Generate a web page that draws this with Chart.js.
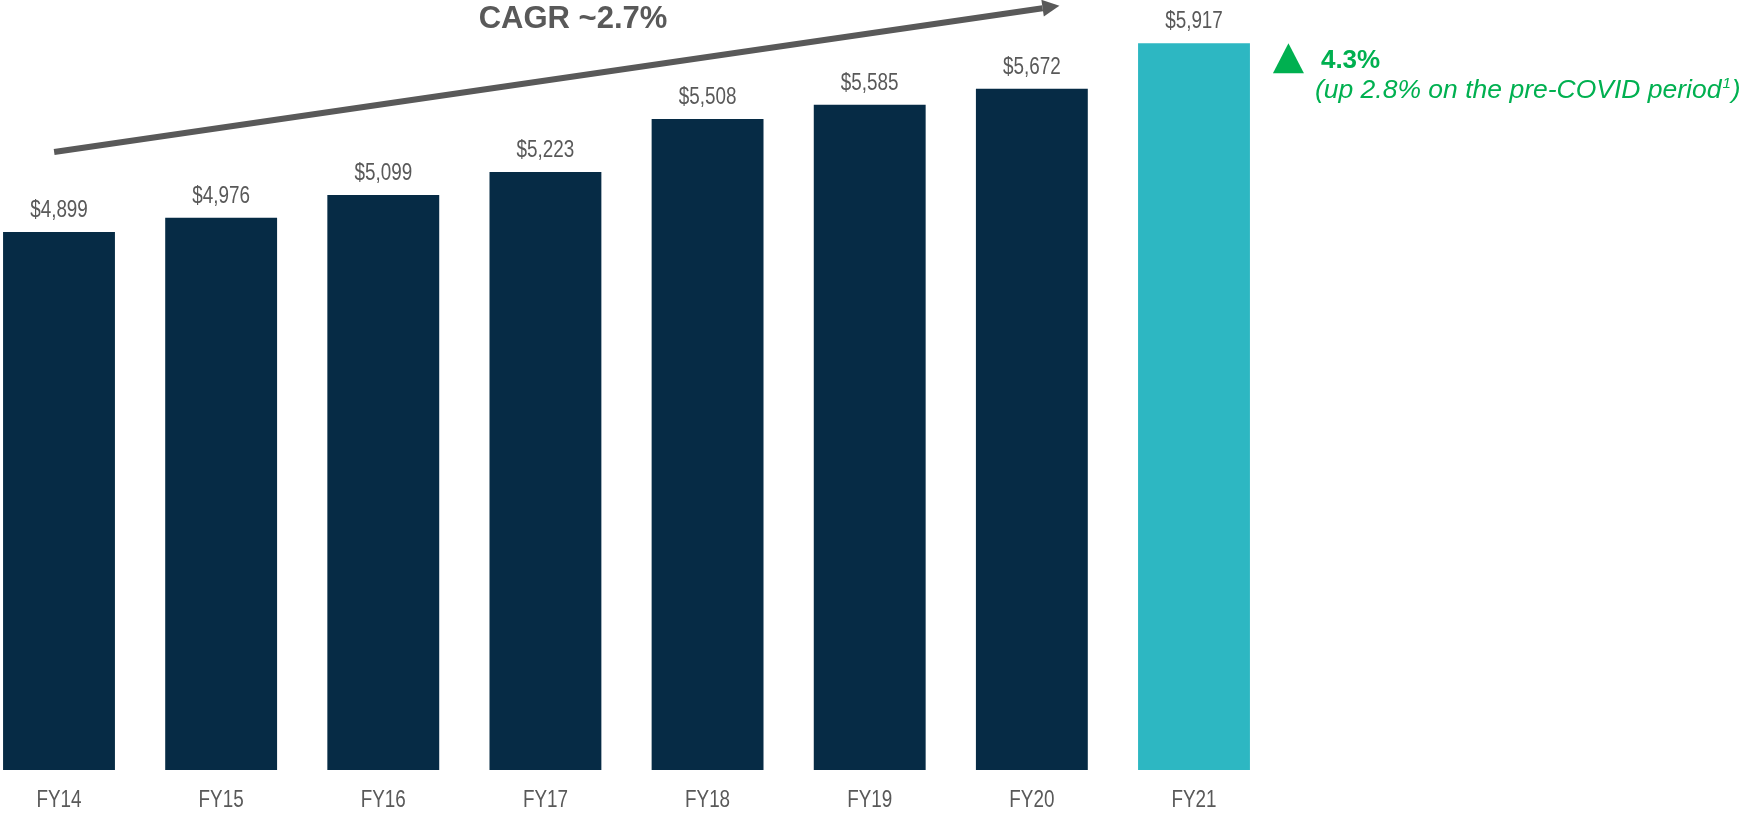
<!DOCTYPE html>
<html>
<head>
<meta charset="utf-8">
<script src="https://cdn.jsdelivr.net/npm/chart.js@4.4.1/dist/chart.umd.min.js"></script>
<style>
  html, body { margin: 0; padding: 0; background: #fff; }
  #wrap { width: 1742px; height: 813px; }
</style>
</head>
<body>
<div id="wrap"><canvas id="myChart"></canvas></div>
<script>
// data
var years = ['FY14', 'FY15', 'FY16', 'FY17', 'FY18', 'FY19', 'FY20', 'FY21'];
var revenue = [4899, 4976, 5099, 5223, 5508, 5585, 5672, 5917];
var barColors = ['#062b45', '#062b45', '#062b45', '#062b45', '#062b45', '#062b45', '#062b45', '#2db7c2'];
var cagrText = 'CAGR ~2.7%';
var growthText = '4.3%';
var growthNote = '(up 2.8% on the pre-COVID period';

var grey = '#595959';
var green = '#00b050';
var sans = '"Liberation Sans", Arial, sans-serif';

// smalle tekst (Arial Narrow nabootsen)
function narrowText(ctx, text, x, y) {
    ctx.save();
    ctx.translate(x, y);
    ctx.scale(0.82, 1);
    ctx.fillText(text, 0, 0);
    ctx.restore();
}

// labels boven de balken en onder de as
var valueLabels = {
    id: 'valueLabels',
    afterDatasetsDraw: function (chart) {
        var ctx = chart.ctx;
        var bars = chart.getDatasetMeta(0).data;
        var xs = chart.scales.x;
        ctx.save();
        ctx.font = '23px ' + sans;
        ctx.fillStyle = grey;
        ctx.textAlign = 'center';
        ctx.textBaseline = 'alphabetic';
        bars.forEach(function (bar, i) {
            narrowText(ctx, '$' + revenue[i].toLocaleString('en-US'), bar.x, bar.y - 15);
        });
        years.forEach(function (yr, i) {
            narrowText(ctx, yr, xs.getPixelForTick(i), chart.chartArea.bottom + 37);
        });
        ctx.restore();
    }
};

// CAGR pijl + groene tekst
var annotations = {
    id: 'annotations',
    afterDraw: function (chart) {
        var ctx = chart.ctx;
        var x = chart.scales.x;
        var y = chart.scales.y;

        var x0 = x.getPixelForValue(-0.03), y0 = y.getPixelForValue(5331);
        var x1 = x.getPixelForValue(6.17), y1 = y.getPixelForValue(6119);
        var ang = Math.atan2(y1 - y0, x1 - x0);
        var headLen = 17, headW = 8.5;
        var bx = x1 - headLen * Math.cos(ang), by = y1 - headLen * Math.sin(ang);

        ctx.save();
        ctx.strokeStyle = grey;
        ctx.fillStyle = grey;
        ctx.lineWidth = 6;
        ctx.beginPath();
        ctx.moveTo(x0, y0);
        ctx.lineTo(bx, by);
        ctx.stroke();
        ctx.beginPath();
        ctx.moveTo(x1, y1);
        ctx.lineTo(bx + headW * Math.sin(ang), by - headW * Math.cos(ang));
        ctx.lineTo(bx - headW * Math.sin(ang), by + headW * Math.cos(ang));
        ctx.closePath();
        ctx.fill();

        ctx.font = 'bold 31px ' + sans;
        ctx.textAlign = 'center';
        ctx.textBaseline = 'alphabetic';
        ctx.fillText(cagrText, x.getPixelForValue(3.17), 28);

        // groene driehoek naast FY21
        var last = chart.getDatasetMeta(0).data[7];
        var tx = last.x + last.width / 2 + 23;
        var ty = last.y;
        ctx.fillStyle = green;
        ctx.beginPath();
        ctx.moveTo(tx, ty + 30);
        ctx.lineTo(tx + 31, ty + 30);
        ctx.lineTo(tx + 15.5, ty);
        ctx.closePath();
        ctx.fill();

        ctx.textAlign = 'left';
        ctx.font = 'bold 26px ' + sans;
        ctx.fillText(growthText, tx + 48, ty + 25);

        ctx.font = 'italic 26.5px ' + sans;
        var nx = tx + 42, ny = ty + 55;
        ctx.fillText(growthNote, nx, ny);
        var w = ctx.measureText(growthNote).width;
        ctx.font = 'italic 15px ' + sans;
        ctx.fillText('1', nx + w + 1, ny - 10);
        var w2 = ctx.measureText('1').width;
        ctx.font = 'italic 26.5px ' + sans;
        ctx.fillText(')', nx + w + w2 + 2, ny);
        ctx.restore();
    }
};

var ctx = document.getElementById('myChart');
var myChart = new Chart(ctx, {
    type: 'bar',
    data: {
        labels: years,
        datasets: [{
            data: revenue,
            backgroundColor: barColors,
            borderWidth: 0,
            categoryPercentage: 1,
            barPercentage: 0.69,
            clip: { left: false, right: false, top: false, bottom: 0 }
        }]
    },
    options: {
        responsive: true,
        maintainAspectRatio: false,
        animation: false,
        layout: { padding: { left: 59, right: 548, top: 0, bottom: 43 } },
        plugins: {
            legend: { display: false },
            tooltip: { enabled: false }
        },
        scales: {
            x: {
                offset: false,
                grid: { display: false, drawTicks: false },
                border: { display: false },
                ticks: { display: false }
            },
            y: {
                display: false,
                min: 2000,
                max: 6150
            }
        }
    },
    plugins: [valueLabels, annotations]
});
</script>
</body>
</html>
